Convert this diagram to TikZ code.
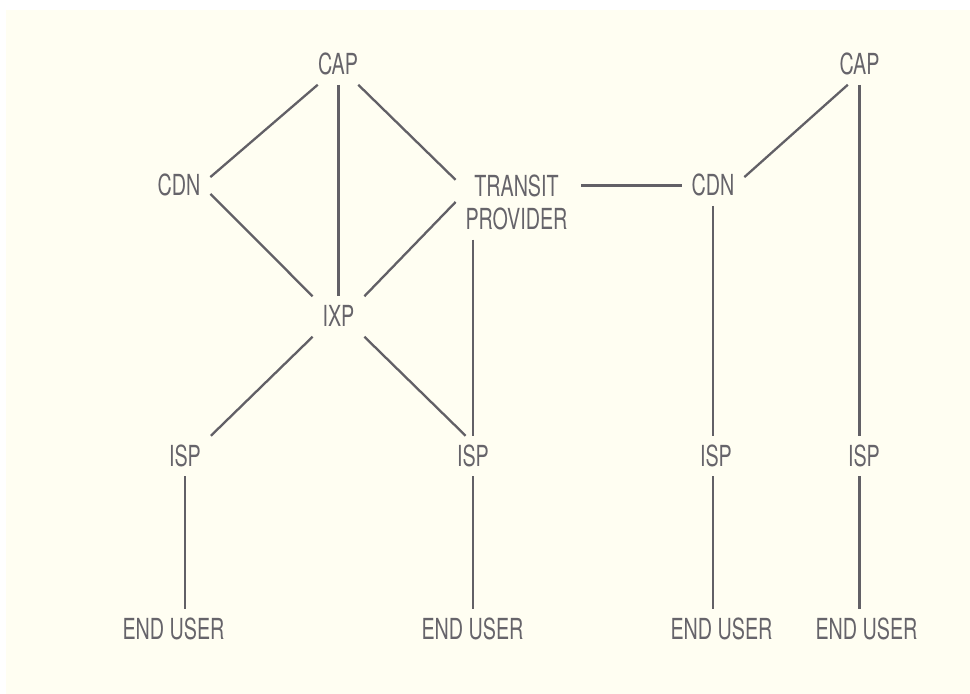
\documentclass[tikz,border=0pt]{standalone}
\usepackage{fontspec}
\newfontfamily\labelfont{TeX Gyre Heros}[FakeStretch=0.68]
\usepackage{tikz}
\definecolor{bgcream}{RGB}{255,254,242}
\definecolor{linegray}{RGB}{98,96,102}
\definecolor{textgray}{RGB}{102,100,106}
\begin{document}
\begin{tikzpicture}[x=1pt,y=-1pt,
  lbl/.style={text=textgray, font=\labelfont\fontsize{29}{32}\selectfont,
    inner sep=0pt, outer sep=10pt, text height=20.5pt, text depth=0pt},
  lbltwo/.style={text=textgray, font=\labelfont\fontsize{29}{33}\selectfont,
    inner sep=0pt, outer sep=10pt, align=center},
  link/.style={draw=linegray, line width=2.3pt}]
\useasboundingbox (0,0) rectangle (970,694);
\fill[bgcream] (6,10) rectangle (970,694);

% 左侧
\node[lbl] (cap1) at (338,64.5) {CAP};
\node[lbl] (cdn1) at (179,185.5) {CDN};
\node[lbltwo] (transit) at (516.5,202) {TRANSIT\\PROVIDER};
\node[lbl] (ixp) at (338.5,316.5) {IXP};

% 右侧
\node[lbl] (cdn2) at (713,185.5) {CDN};
\node[lbl] (cap2) at (859.5,64.5) {CAP};

\foreach \n/\x in {isp1/185, isp2/473, isp3/716, isp4/864}
  \node[lbl] (\n) at (\x,456) {ISP};
\foreach \n/\x in {eu1/173.5, eu2/472.5, eu3/721.5, eu4/866.5}
  \node[lbl] (\n) at (\x,629) {END USER};

\draw[link] (cap1.-135) -- (cdn1.15);
\draw[link] (ixp.north |- cap1.south) -- (ixp.north);
\draw[link] (cap1.-45) -- (transit.160);
\draw[link] (cdn1.-15) -- (ixp.north west);
\draw[link] (transit.west) -- (ixp.north east);
\draw[link] (isp2.north |- transit.south) -- (isp2.north);
\draw[link] (ixp.south west) -- (isp1.north east);
\draw[link] (ixp.south east) -- (isp2.110);
\draw[link] ([xshift=4pt]transit.east |- cdn2.west) -- (cdn2.west);
\draw[link] (cdn2.15) -- (cap2.-120);
\draw[link] (cdn2.south) -- (cdn2.south |- isp3.north);
\draw[link] (cap2.south) -- (cap2.south |- isp4.north);

\draw[link] (isp1.south) -- (isp1.south |- eu1.north);
\draw[link] (isp2.south) -- (isp2.south |- eu2.north);
\draw[link] (cdn2.south |- isp3.south) -- (cdn2.south |- eu3.north);
\draw[link] (cap2.south |- isp4.south) -- (cap2.south |- eu4.north);
\end{tikzpicture}
\end{document}
